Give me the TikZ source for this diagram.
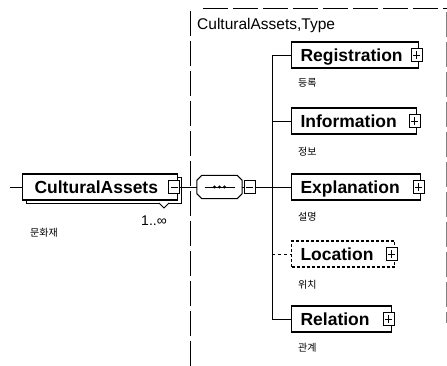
\documentclass[tikz,border=0pt]{standalone}
\usepackage{fontspec}
\setmainfont{Liberation Sans}
\newfontfamily\krfont{Noto Sans CJK KR}
\usetikzlibrary{calc}
\tikzset{
  elem/.style={draw, line width=1.1pt, fill=white, anchor=west, minimum height=26pt,
    inner xsep=9pt, inner ysep=0pt, align=left, text height=12.5pt, text depth=0pt,
    font=\bfseries\fontsize{17.5}{17.5}\selectfont},
  optelem/.style={elem, densely dashed},
  pbox/.style={draw, fill=white, line width=0.8pt, minimum width=11pt, minimum height=13pt, inner sep=0pt,
    path picture={\draw[line width=0.8pt] ([xshift=-3.5pt]path picture bounding box.center) -- ([xshift=3.5pt]path picture bounding box.center);
                  \draw[line width=0.8pt] ([yshift=-4pt]path picture bounding box.center) -- ([yshift=4pt]path picture bounding box.center);}},
  mbox/.style={draw, fill=white, line width=0.8pt, minimum width=11pt, minimum height=13pt, inner sep=0pt,
    path picture={\draw[line width=0.8pt] ([xshift=-3.5pt]path picture bounding box.center) -- ([xshift=3.5pt]path picture bounding box.center);}},
  krlabel/.style={anchor=west, inner sep=0pt, font=\krfont\fontsize{10}{10}\selectfont},
  conn/.style={line width=0.9pt},
  frameline/.style={line width=0.9pt, dash pattern=on 25pt off 5pt},
}
\begin{document}
\begin{tikzpicture}[x=1pt, y=-1pt]
\useasboundingbox (0,0) rectangle (447,366);
\fill[white] (0,0) rectangle (447,366);

% dashed frame of the complex type
\draw[frameline] (190,366) -- (190,11);
\draw[frameline] (203,8) -- (447,8);
\draw[frameline, gray] (446,12) -- (446,323);
\node[anchor=west, inner sep=0pt, font=\fontsize{15.5}{15.5}\selectfont] (title) at (197,25) {CulturalAssets,Type};

% CulturalAssets element (repeated)
\node[draw, line width=0.9pt, fill=white, minimum width=155pt, minimum height=26pt, inner sep=0pt, anchor=north west] (caback) at (26,177) {};
\draw[line width=0.8pt, fill=white] (159,203) -- (164,208) -- (169,203);
\node[elem, minimum width=155pt, text width=131pt, inner xsep=12pt] (ca) at (22,187) {CulturalAssets};
\node[mbox] (cam) at (174,187) {};
\node[anchor=center, inner sep=0pt, font=\fontsize{14}{14}\selectfont] (mult) at (154,221) {1..∞};
\node[krlabel] (calab) at (30,233) {문화재};
\coordinate (in) at (10,187);
\draw[conn] (in) -- (ca.west);

% sequence compositor
\node[minimum width=45pt, minimum height=23pt, inner sep=0pt] (seq) at (219.5,187) {};
\draw[line width=1pt, fill=white]
  ($(seq.north west)+(5,0)$) -- ($(seq.north east)+(-5,0)$) -- ($(seq.north east)+(0,5)$)
  -- ($(seq.south east)+(0,-5)$) -- ($(seq.south east)+(-5,0)$) -- ($(seq.south west)+(5,0)$)
  -- ($(seq.south west)+(0,-5)$) -- ($(seq.north west)+(0,5)$) -- cycle;
\draw[line width=0.9pt] ($(seq.center)+(-15,0)$) -- ($(seq.center)+(15,0)$);
\foreach \dx in {-5,0,5} \fill ($(seq.center)+(\dx,0)$) circle (1.7pt);
\node[mbox] (seqm) at (249.5,187) {};
\draw[conn] (cam.east) -- (seq.west);
\draw[conn] (seq.east) -- (seqm.west);

% child elements
\node[elem, minimum width=127pt, text width=109pt] (reg) at (291,55) {Registration};
\node[pbox] (regp) at (416.5,55) {};
\node[krlabel] (reglab) at (298,83) {등록};

\node[elem, minimum width=125pt, text width=107pt] (inf) at (291,121) {Information};
\node[pbox] (infp) at (414.5,121) {};
\node[krlabel] (inflab) at (298,152) {정보};

\node[elem, minimum width=129pt, text width=111pt] (exp) at (291,187) {Explanation};
\node[pbox] (expp) at (418.5,187) {};
\node[krlabel] (explab) at (298,217) {설명};

\node[optelem, minimum width=103pt, text width=85pt] (loc) at (291,254) {Location};
\node[pbox] (locp) at (391.5,254) {};
\node[krlabel] (loclab) at (298,285) {위치};

\node[elem, minimum width=100pt, text width=82pt] (rel) at (291,319) {Relation};
\node[pbox] (relp) at (388.5,319) {};
\node[krlabel] (rellab) at (298,348) {관계};

% connectors
\coordinate (t1) at (272,55);
\coordinate (t2) at (272,121);
\coordinate (t3) at (272,187);
\coordinate (t4) at (272,254);
\coordinate (t5) at (272,319);
\draw[conn] (reg.west) -- (t1) -- (t5) -- (rel.west);
\draw[conn] (t2) -- (inf.west);
\draw[conn] (seqm.east) -- (exp.west);
\draw[conn, dashed] (t4) -- (loc.west);
\end{tikzpicture}
\end{document}
